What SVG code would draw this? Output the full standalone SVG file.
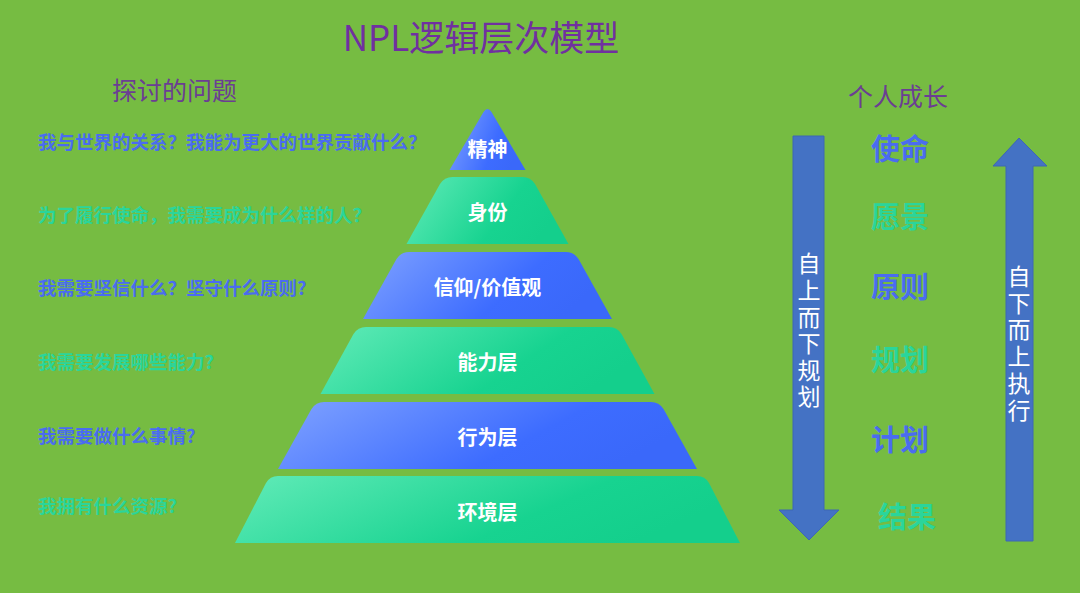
<svg xmlns="http://www.w3.org/2000/svg" width="1080" height="593" viewBox="0 0 1080 593">
<defs>
<linearGradient id="gB" x1="0" y1="0" x2="1" y2="0.3">
<stop offset="0" stop-color="#7FA2FF"/><stop offset="0.7" stop-color="#3D6CFF"/><stop offset="1" stop-color="#3A68FA"/>
</linearGradient>
<linearGradient id="gG" x1="0" y1="0" x2="1" y2="0.3">
<stop offset="0" stop-color="#62EBB8"/><stop offset="0.7" stop-color="#17D390"/><stop offset="1" stop-color="#14CF8C"/>
</linearGradient>
<style>
.cjk{font-family:"Noto Sans CJK SC","Noto Sans",sans-serif}
.q{font-size:18.5px;font-weight:700}
.qb{fill:#4A6CF0}
.qg{fill:#2AD59B}
.lay{font-size:20px;font-weight:700;fill:#FFFFFF;text-anchor:middle;dominant-baseline:central}
.big{font-size:29px;font-weight:700;text-anchor:middle;dominant-baseline:central}
.vt{font-size:23px;fill:#FFFFFF;text-anchor:middle;writing-mode:vertical-rl}
.arr{fill:#4472C4;stroke:#3D67B4;stroke-width:1}
</style>
</defs>
<rect width="1080" height="593" fill="#76BC42"/>
<text class="cjk" x="481" y="51" font-size="35" fill="#7030A0" text-anchor="middle">NPL逻辑层次模型</text>
<text class="cjk" x="112" y="100" font-size="25" fill="#6B3E93">探讨的问题</text>
<text class="cjk" x="898" y="106" font-size="25" fill="#6B3E93" text-anchor="middle">个人成长</text>
<g id="questions">
<text class="cjk q qb" x="38" y="149">我与世界的关系？我能为更大的世界贡献什么？</text>
<text class="cjk q qg" x="38" y="222">为了履行使命，我需要成为什么样的人？</text>
<text class="cjk q qb" x="38" y="295">我需要坚信什么？坚守什么原则?</text>
<text class="cjk q qg" x="38" y="369">我需要发展哪些能力?</text>
<text class="cjk q qb" x="38" y="443">我需要做什么事情?</text>
<text class="cjk q qg" x="38" y="513">我拥有什么资源?</text>
</g>
<g id="layer-spirit">
<path d="M449.5,170 L483.5,112 Q487.5,106 491.5,112 L525.5,170 Z" fill="url(#gB)"/>
<text class="cjk lay" x="487.5" y="148">精神</text>
</g>
<g id="layer-identity">
<path d="M406.5,244 L440,184 Q444.5,177 452.5,177 L522.5,177 Q530.5,177 535,184 L568.5,244 Z" fill="url(#gG)"/>
<text class="cjk lay" x="487.5" y="211">身份</text>
</g>
<g id="layer-belief">
<path d="M363,319 L396.5,259 Q401,252 409,252 L566,252 Q574,252 578.5,259 L612,319 Z" fill="url(#gB)"/>
<text class="cjk lay" x="487.5" y="286">信仰/价值观</text>
</g>
<g id="layer-ability">
<path d="M320.5,394 L353.5,334 Q358,327 366,327 L609,327 Q617,327 621.5,334 L654.5,394 Z" fill="url(#gG)"/>
<text class="cjk lay" x="487.5" y="361">能力层</text>
</g>
<g id="layer-behavior">
<path d="M278,469 L311.5,409 Q316,402 324,402 L651,402 Q659,402 663.5,409 L697,469 Z" fill="url(#gB)"/>
<text class="cjk lay" x="487.5" y="436">行为层</text>
</g>
<g id="layer-environment">
<path d="M235,543 L266,483 Q270,476 278,476 L697,476 Q705,476 709,483 L740,543 Z" fill="url(#gG)"/>
<text class="cjk lay" x="487.5" y="511">环境层</text>
</g>
<g id="growth">
<text class="cjk big" x="900" y="147" fill="#4A6CF0">使命</text>
<text class="cjk big" x="900" y="215" fill="#2AD59B">愿景</text>
<text class="cjk big" x="900" y="285" fill="#4A6CF0">原则</text>
<text class="cjk big" x="900" y="358" fill="#2AD59B">规划</text>
<text class="cjk big" x="900" y="438" fill="#4A6CF0">计划</text>
<text class="cjk big" x="907" y="515" fill="#2AD59B">结果</text>
</g>
<g id="connectors">
<path class="arr" d="M793,136 L824,136 L824,510 L839,510 L809,540 L779,510 L793,510 Z"/>
<path class="arr" d="M1019,138 L1047,166 L1033,166 L1033,541 L1006,541 L1006,166 L993,166 Z"/>
</g>
<g id="arrow-text-down">
<text class="cjk vt" x="809" y="332" letter-spacing="3.6">自上而下规划</text>
</g>
<g id="arrow-text-up">
<text class="cjk vt" x="1019" y="345" letter-spacing="3.8">自下而上执行</text>
</g>
</svg>
